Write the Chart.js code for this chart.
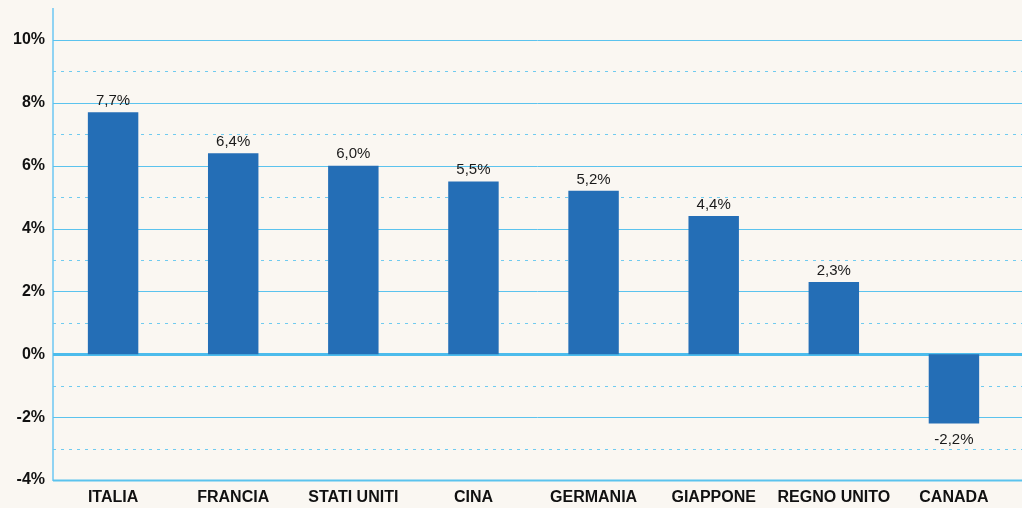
<!DOCTYPE html>
<html>
<head>
<meta charset="utf-8">
<script src="https://cdn.jsdelivr.net/npm/chart.js@4"></script>
<style>
  html, body { margin: 0; padding: 0; background: #faf7f2; overflow: hidden; }
  #wrap { width: 1022px; height: 517px; margin-top: -9px; }
</style>
</head>
<body>
<div id="wrap"><canvas id="growthChart"></canvas></div>
<script>
// Paesi e variazione percentuale
const countries = ['ITALIA', 'FRANCIA', 'STATI UNITI', 'CINA', 'GERMANIA', 'GIAPPONE', 'REGNO UNITO', 'CANADA'];
const growth = [7.7, 6.4, 6.0, 5.5, 5.2, 4.4, 2.3, -2.2];
const yMin = -4;
const yMax = 11;

const lineBlue = '#5bc3ee';
const dashBlue = '#6fcbf0';
const barBlue = '#246eb6';

// Horizontal guide lines: solid on even values, dotted on odd ones, across full width
const guideLines = {
    id: 'guideLines',
    beforeDatasetsDraw(chart) {
        const ctx = chart.ctx;
        const y = chart.scales.y;
        const left = chart.chartArea.left;
        const right = chart.width;
        ctx.save();
        for (let v = yMin; v <= 10; v++) {
            const py = Math.round(y.getPixelForValue(v)) + 0.5;
            ctx.beginPath();
            if (v % 2 === 0) {
                ctx.setLineDash([]);
                ctx.strokeStyle = v === 0 ? '#4cbcec' : lineBlue;
                ctx.lineWidth = v === 0 ? 3 : (v === yMin ? 2 : 1);
            } else {
                ctx.setLineDash([3, 5]);
                ctx.strokeStyle = dashBlue;
                ctx.lineWidth = 1;
            }
            ctx.moveTo(left, py);
            ctx.lineTo(right, py);
            ctx.stroke();
        }
        ctx.restore();
    }
};

// Value labels above (or below) each bar
const valueLabels = {
    id: 'valueLabels',
    afterDatasetsDraw(chart) {
        const ctx = chart.ctx;
        const meta = chart.getDatasetMeta(0);
        ctx.save();
        ctx.font = '15px "Liberation Sans", Arial, sans-serif';
        ctx.fillStyle = '#1a1a1a';
        ctx.textAlign = 'center';
        meta.data.forEach((bar, i) => {
            const v = growth[i];
            const txt = v.toFixed(1).replace('.', ',') + '%';
            if (v >= 0) {
                ctx.textBaseline = 'bottom';
                ctx.fillText(txt, bar.x, bar.y - 4);
            } else {
                ctx.textBaseline = 'top';
                ctx.fillText(txt, bar.x, bar.y + 9);
            }
        });
        ctx.restore();
    }
};

new Chart(document.getElementById('growthChart'), {
    type: 'bar',
    data: {
        labels: countries,
        datasets: [{
            data: growth,
            backgroundColor: barBlue,
            barPercentage: 0.42,
            categoryPercentage: 1
        }]
    },
    options: {
        responsive: true,
        maintainAspectRatio: false,
        animation: false,
        layout: { padding: { top: 0, right: 8, left: 5, bottom: 0 } },
        plugins: {
            legend: { display: false },
            tooltip: { enabled: false }
        },
        scales: {
            x: {
                grid: { display: false },
                border: { display: false },
                ticks: {
                    color: '#111',
                    padding: 2,
                    maxRotation: 0,
                    autoSkip: false,
                    font: { family: '"Liberation Sans", Arial, sans-serif', size: 16, weight: 'bold', lineHeight: 1 }
                }
            },
            y: {
                min: yMin,
                max: yMax,
                grid: { display: false, drawTicks: false },
                border: { display: true, color: '#8fd3f3', width: 2 },
                ticks: {
                    stepSize: 1,
                    autoSkip: false,
                    padding: 8,
                    color: '#111',
                    font: { family: '"Liberation Sans", Arial, sans-serif', size: 16, weight: 'bold' },
                    callback: v => (v % 2 === 0 && v <= 10) ? v + '%' : ''
                }
            }
        }
    },
    plugins: [guideLines, valueLabels]
});
</script>
</body>
</html>
